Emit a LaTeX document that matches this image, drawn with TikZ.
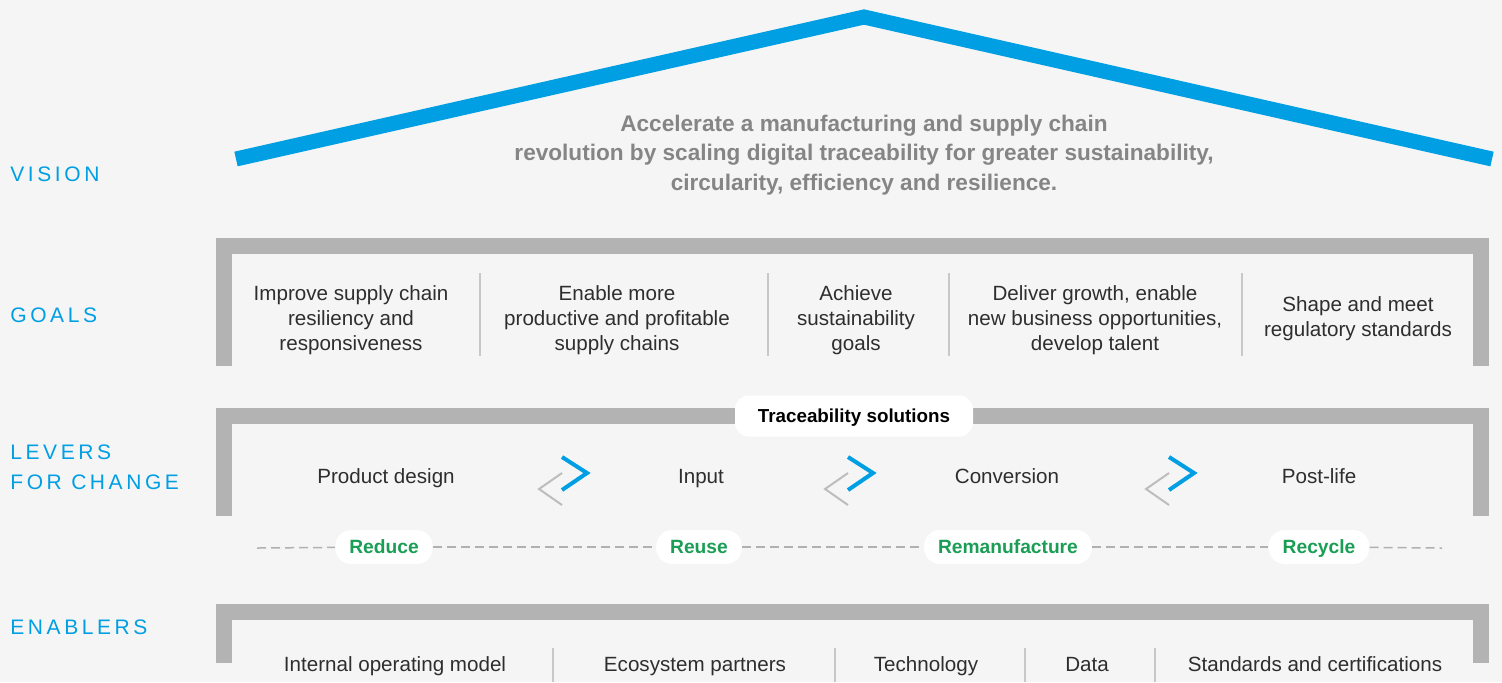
\documentclass[tikz,border=0pt]{standalone}
\usepackage{fontspec}
\setmainfont{Liberation Sans}
\usetikzlibrary{positioning}
\definecolor{bggrey}{HTML}{F5F5F5}
\definecolor{roofblue}{HTML}{009FE3}
\definecolor{framegrey}{HTML}{B3B3B3}
\definecolor{divgrey}{HTML}{C8C8C8}
\definecolor{dashgrey}{HTML}{B0B0B0}
\definecolor{chevgrey}{HTML}{BDBDBD}
\definecolor{visiongrey}{HTML}{858585}
\definecolor{itemtext}{HTML}{2E2E2E}
\definecolor{rgreen}{HTML}{1A9E55}
\tikzset{
    roof/.style={draw=roofblue,line width=7.5pt,line join=miter},
    frame/.style={draw=framegrey,line width=8pt,line join=miter},
    layer/.style={anchor=west,align=left,text=roofblue,inner sep=0pt,
        font=\fontsize{10.5}{15}\selectfont\addfontfeature{LetterSpace=17}},
    vision/.style={align=center,text=visiongrey,inner sep=0pt,
        font=\fontsize{11.3}{14.75}\selectfont\bfseries},
    item/.style={align=center,text=itemtext,inner sep=0pt,
        font=\fontsize{10.3}{12.5}\selectfont},
    oneline/.style={item,text height=7.4pt,text depth=0pt},
    divider/.style={draw=divgrey,line width=0.6pt},
    tag/.style={fill=white,rounded corners=7pt,minimum width=119pt,minimum height=20.5pt,
        text height=6.8pt,text depth=0pt,
        font=\fontsize{9.4}{11}\selectfont\bfseries,text=black},
    pill/.style={fill=white,rounded corners=8pt,minimum height=17pt,inner xsep=7pt,
        text height=6.9pt,text depth=0pt,
        font=\fontsize{9.6}{11}\selectfont\bfseries,text=rgreen},
    dashline/.style={draw=dashgrey,line width=0.75pt,dash pattern=on 4.5pt off 2.5pt},
    chevblue/.style={draw=roofblue,line width=2pt,line join=miter},
    chevgrey/.style={draw=chevgrey,line width=1pt,line join=miter},
}
\begin{document}
\begin{tikzpicture}[x=0.5pt,y=-0.5pt]
	\fill[bggrey] (0,0) rectangle (1502,682);
	\useasboundingbox (0,0) rectangle (1502,682);

	% vision
	\draw[roof] (236,159) -- (864,17) -- (1492,159);
	\node[layer] (lvision) at (10,174) {VISION};
	\node[vision] (vtext) at (864,155) {Accelerate a manufacturing and supply chain\\
		revolution by scaling digital traceability for greater sustainability,\\
		circularity, efficiency and resilience.};

	% goals
	\draw[frame] (224,366) -- (224,246) -- (1481,246) -- (1481,366);
	\node[layer] (lgoals) at (10,315) {GOALS};
	\node[item] (g1) at (351,320) {Improve supply chain\\resiliency and\\responsiveness};
	\node[item] (g2) at (617,320) {Enable more\\productive and profitable\\supply chains};
	\node[item] (g3) at (856,320) {Achieve\\sustainability\\goals};
	\node[item] (g4) at (1095,320) {Deliver growth, enable\\new business opportunities,\\develop talent};
	\node[item] (g5) at (1358,319) {Shape and meet\\regulatory standards};
	\foreach \x in {480,768,949,1242}
		\draw[divider] (\x,273) -- (\x,356);

	% levers
	\draw[frame] (224,516) -- (224,416) -- (1481,416) -- (1481,516);
	\node[layer] (llevers) at (10,467) {LEVERS\\FOR CHANGE};
	\node[tag] (trace) at (854,416) {Traceability solutions};
	\node[oneline] (p1) at (386,476) {Product design};
	\node[oneline] (p2) at (701,476) {Input};
	\node[oneline] (p3) at (1007,476) {Conversion};
	\node[oneline] (p4) at (1319,476) {Post-life};
	\foreach \cx in {562,848,1169}{
		\draw[chevgrey] (\cx,473) -- (\cx-23,489) -- (\cx,505);
		\draw[chevblue] (\cx,457) -- (\cx+25,473) -- (\cx,490);
	}

	\coordinate (dl) at (257,548);
	\coordinate (dr) at (1442,548);
	\node[pill] (reduce) at (384,547) {Reduce};
	\node[pill] (reuse) at (699,547) {Reuse};
	\node[pill] (reman) at (1008,547) {Remanufacture};
	\node[pill] (recycle) at (1319,547) {Recycle};
	\draw[dashline] (dl) -- (reduce);
	\draw[dashline] (reduce) -- (reuse);
	\draw[dashline] (reuse) -- (reman);
	\draw[dashline] (reman) -- (recycle);
	\draw[dashline] (recycle) -- (dr);

	% enablers
	\draw[frame] (224,663) -- (224,612) -- (1481,612) -- (1481,663);
	\node[layer] (lenablers) at (10,627) {ENABLERS};
	\node[oneline] (e1) at (395,664) {Internal operating model};
	\node[oneline] (e2) at (695,664) {Ecosystem partners};
	\node[oneline] (e3) at (926,664) {Technology};
	\node[oneline] (e4) at (1087,664) {Data};
	\node[oneline] (e5) at (1315,664) {Standards and certifications};
	\foreach \x in {553,835,1025,1155}
		\draw[divider] (\x,648) -- (\x,682);
\end{tikzpicture}
\end{document}
